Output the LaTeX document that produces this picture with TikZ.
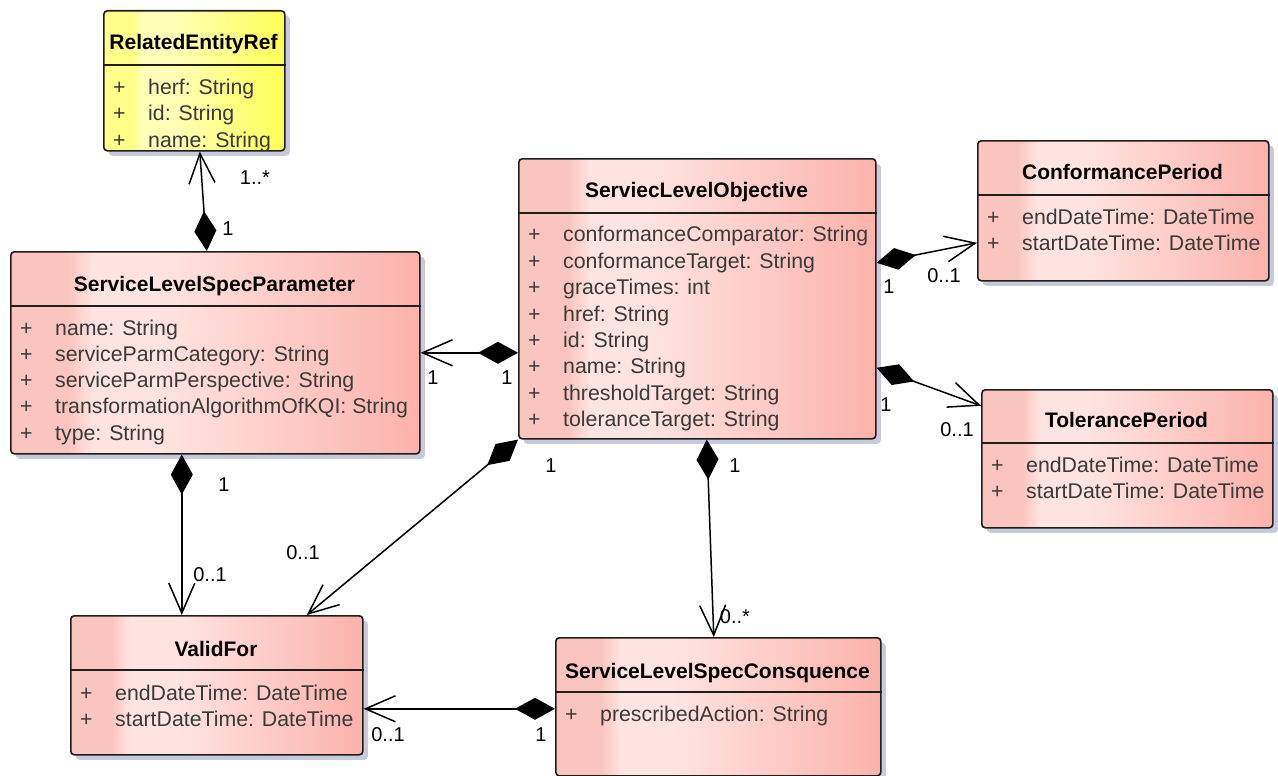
\documentclass[tikz,border=0pt]{standalone}
\usepackage{fontspec}
\setmainfont{Liberation Sans}
\usetikzlibrary{arrows.meta,shadows}
\definecolor{pinkS}{HTML}{FBC5BF}
\definecolor{pinkL}{HTML}{FFE4E1}
\definecolor{pinkD}{HTML}{FCB2AB}
\definecolor{yelS}{HTML}{FFFF8A}
\definecolor{yelL}{HTML}{FFFFB8}
\definecolor{yelD}{HTML}{FFFF55}
\definecolor{shadowgray}{HTML}{C6CAD9}
\definecolor{attrgray}{HTML}{3A3A3A}
\definecolor{border}{HTML}{1E1E1E}
\pgfdeclarehorizontalshading{pinkgloss}{100bp}{color(0bp)=(pinkS); color(25bp)=(pinkS); color(32bp)=(pinkS); color(35bp)=(pinkL); color(43bp)=(pinkL); color(75bp)=(pinkD); color(100bp)=(pinkD)}
\pgfdeclarehorizontalshading{yellowgloss}{100bp}{color(0bp)=(yelS); color(25bp)=(yelS); color(33bp)=(yelS); color(36bp)=(yelL); color(44bp)=(yelL); color(75bp)=(yelD); color(100bp)=(yelD)}
\tikzset{
  classbox/.style={draw=border, line width=1.6pt, rounded corners=3.5pt, shading=pinkgloss,
    inner sep=0pt, anchor=north west,
    drop shadow={shadow xshift=5pt, shadow yshift=-5pt, fill=shadowgray, opacity=1}},
  classtitle/.style={font=\fontsize{21pt}{25pt}\selectfont\bfseries, anchor=base, inner sep=0pt},
  attr/.style={font=\fontsize{21.3pt}{25pt}\selectfont, text=attrgray, anchor=base west, inner sep=0pt},
  sepline/.style={draw=border, line width=1.6pt},
  mult/.style={font=\fontsize{20pt}{24pt}\selectfont, inner sep=0pt},
  comp/.style={line width=1.5pt, arrows={Diamond[length=40pt,width=22pt]-Straight Barb[length=30pt,width=26pt]}}
}

\begin{document}
\begin{tikzpicture}[x=1pt,y=-1pt]
\useasboundingbox (0,0) rectangle (1278,776);

% Classes:
% RelatedEntityRef
\node[classbox, shading=yellowgloss, minimum width=181pt, minimum height=140pt] (rer) at (103,10) {};
\node[classtitle] (title_rer) at (193.5,50) {RelatedEntityRef};
\draw[sepline] (rer.west |- 0,65) -- (rer.east |- 0,65);
\foreach \a [count=\i] in {herf: String, id: String, name: String}{%
    \node[attr] (plus_rer\i) at (113,{69+26*\i}) {+};
    \node[attr] (attr_rer\i) at (148,{69+26*\i}) {\a};
}

% ServiceLevelSpecParameter
\node[classbox, minimum width=409pt, minimum height=202pt] (slsp) at (10,251) {};
\node[classtitle] (title_slsp) at (214.5,291.7) {ServiceLevelSpecParameter};
\draw[sepline] (slsp.west |- 0,306) -- (slsp.east |- 0,306);
\foreach \a [count=\i] in {name: String, serviceParmCategory: String, serviceParmPerspective: String, transformationAlgorithmOfKQI: String, type: String}{%
    \node[attr] (plus_slsp\i) at (20,{308.75+26.25*\i}) {+};
    \node[attr] (attr_slsp\i) at (55,{308.75+26.25*\i}) {\a};
}

% ServiecLevelObjective
\node[classbox, minimum width=357pt, minimum height=280pt] (slo) at (518,158) {};
\node[classtitle] (title_slo) at (696.5,197.3) {ServiecLevelObjective};
\draw[sepline] (slo.west |- 0,213) -- (slo.east |- 0,213);
\foreach \a [count=\i] in {conformanceComparator: String, conformanceTarget: String, graceTimes: int, href: String, id: String, name: String, thresholdTarget: String, toleranceTarget: String}{%
    \node[attr] (plus_slo\i) at (528,{215.3+26.43*\i}) {+};
    \node[attr] (attr_slo\i) at (563,{215.3+26.43*\i}) {\a};
}

% ConformancePeriod
\node[classbox, minimum width=291pt, minimum height=140pt] (cp) at (977,140) {};
\node[classtitle] (title_cp) at (1122.5,179.3) {ConformancePeriod};
\draw[sepline] (cp.west |- 0,195) -- (cp.east |- 0,195);
\foreach \a [count=\i] in {endDateTime: DateTime, startDateTime: DateTime}{%
    \node[attr] (plus_cp\i) at (987,{198+26*\i}) {+};
    \node[attr] (attr_cp\i) at (1022,{198+26*\i}) {\a};
}

% TolerancePeriod
\node[classbox, minimum width=291pt, minimum height=138pt] (tp) at (981,389) {};
\node[classtitle] (title_tp) at (1126.5,427.7) {TolerancePeriod};
\draw[sepline] (tp.west |- 0,443) -- (tp.east |- 0,443);
\foreach \a [count=\i] in {endDateTime: DateTime, startDateTime: DateTime}{%
    \node[attr] (plus_tp\i) at (991,{446.7+26*\i}) {+};
    \node[attr] (attr_tp\i) at (1026,{446.7+26*\i}) {\a};
}

% ValidFor
\node[classbox, minimum width=292pt, minimum height=139pt] (vf) at (70,615) {};
\node[classtitle] (title_vf) at (216,656) {ValidFor};
\draw[sepline] (vf.west |- 0,670) -- (vf.east |- 0,670);
\foreach \a [count=\i] in {endDateTime: DateTime, startDateTime: DateTime}{%
    \node[attr] (plus_vf\i) at (80,{674+26*\i}) {+};
    \node[attr] (attr_vf\i) at (115,{674+26*\i}) {\a};
}

% ServiceLevelSpecConsquence
\node[classbox, minimum width=325pt, minimum height=138pt] (slsc) at (555,637) {};
\node[classtitle] (title_slsc) at (717.5,678.3) {ServiceLevelSpecConsquence};
\draw[sepline] (slsc.west |- 0,692) -- (slsc.east |- 0,692);
\node[attr] (plus_slsc1) at (565,721.7) {+};
\node[attr] (attr_slsc1) at (600,721.7) {prescribedAction: String};

% Compositions
\draw[comp] ([xshift=-8.5pt]slsp.north) -- ([xshift=5.5pt]rer.south);
\draw[comp] ([yshift=-54pt]slo.west) -- (slsp.east);
\draw[comp] ([yshift=36pt]slo.east) -- ([yshift=-32pt]cp.west);
\draw[comp] ([yshift=-69pt]slo.east) -- ([yshift=53pt]tp.west);
\draw[comp] (slo.south west) -- ([xshift=90pt]vf.north);
\draw[comp] ([xshift=9.5pt]slo.south) -- ([xshift=-4.5pt]slsc.north);
\draw[comp] ([xshift=-33.5pt]slsp.south) -- ([xshift=-35pt]vf.north);
\draw[comp] ([yshift=-2pt]slsc.west) -- ([yshift=-23.5pt]vf.east);

% Multiplicities
\node[mult] (mult_rer) at (255,178) {1..*};
\node[mult] (mult_slsp_rer) at (228,229) {1};
\node[mult] (mult_slsp_slo) at (433,378) {1};
\node[mult] (mult_slo_slsp) at (507,378) {1};
\node[mult] (mult_slo_cp) at (889,287) {1};
\node[mult] (mult_cp) at (944,276) {0..1};
\node[mult] (mult_slo_tp) at (886,405) {1};
\node[mult] (mult_tp) at (957,430) {0..1};
\node[mult] (mult_slo_vf) at (551,466) {1};
\node[mult] (mult_vf_slo) at (303,553) {0..1};
\node[mult] (mult_slo_slsc) at (735,466) {1};
\node[mult] (mult_slsc) at (735,617) {0..*};
\node[mult] (mult_slsp_vf) at (224,485) {1};
\node[mult] (mult_vf_slsp) at (210,575) {0..1};
\node[mult] (mult_vf_slsc) at (388,735) {0..1};
\node[mult] (mult_slsc_vf) at (541,735) {1};
\end{tikzpicture}
\end{document}
